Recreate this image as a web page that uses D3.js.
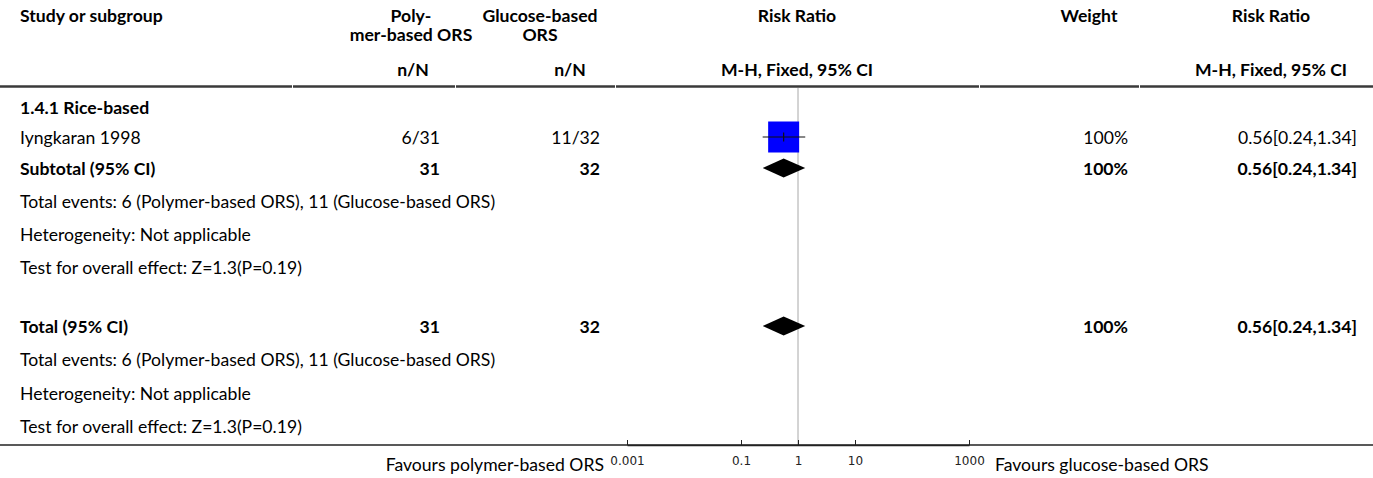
<!DOCTYPE html>
<html>
<head>
<meta charset="utf-8">
<script src="https://cdn.jsdelivr.net/npm/d3@7"></script>
<style>
  html, body { margin: 0; padding: 0; background: #fff; }
  svg { display: block; }
  .txt { font-family: Lato, "Noto Sans", sans-serif; font-size: 17.6px; fill: #000; }
  .bold { font-weight: 700; }
  .tick text { font-family: "DejaVu Sans", sans-serif; font-size: 12px; fill: #222; }
</style>
</head>
<body>
<svg id="chart" width="1373" height="478"></svg>
<script>
// ---- data ----
const studyNames = ["Iyngkaran 1998"];
const polyEvents = [6];
const polyTotals = [31];
const glucoseEvents = [11];
const glucoseTotals = [32];
const studyRR = [0.56];
const studyLow = [0.24];
const studyHigh = [1.34];
const studyWeight = [100];

const subgroupLabel = "1.4.1 Rice-based";
const pooledRR = 0.56, pooledLow = 0.24, pooledHigh = 1.34;
const pooledPolyN = 31, pooledGlucoseN = 32;

const tickValues = [0.001, 0.1, 1, 10, 1000];
const favoursLeft = "Favours polymer-based ORS";
const favoursRight = "Favours glucose-based ORS";

const footnotes = [
  "Total events: 6 (Polymer-based ORS), 11 (Glucose-based ORS)",
  "Heterogeneity: Not applicable",
  "Test for overall effect: Z=1.3(P=0.19)"
];

// ---- layout ----
const W = 1373, H = 478;
const svg = d3.select("#chart");

const col = {
  study: 20,
  polyRight: 440, polyMid: 411, polyNN: 413,
  gluRight: 600, gluMid: 540, gluNN: 570,
  plotMid: 797,
  weightRight: 1128, weightMid: 1089,
  rrRight: 1357, rrMid: 1271
};
const segBreaks = [0, 292, 455, 615, 979, 1139, W];

const x = d3.scaleLog().domain([0.001, 1000]).range([627, 969]);
const axisY = 445;

function txt(g, xp, y, s, opts = {}) {
  return g.append("text")
    .attr("class", "txt" + (opts.bold ? " bold" : ""))
    .attr("x", xp).attr("y", y)
    .attr("text-anchor", opts.anchor || "start")
    .text(s);
}

const g = svg.append("g");

// header
const h1 = 22, h2 = 41, h3 = 76;
txt(g, col.study, h1, "Study or subgroup", { bold: true });
txt(g, col.polyMid, h1, "Poly-", { bold: true, anchor: "middle" });
txt(g, col.polyMid, h2, "mer-based ORS", { bold: true, anchor: "middle" });
txt(g, col.gluMid, h1, "Glucose-based", { bold: true, anchor: "middle" });
txt(g, col.gluMid, h2, "ORS", { bold: true, anchor: "middle" });
txt(g, col.plotMid, h1, "Risk Ratio", { bold: true, anchor: "middle" });
txt(g, col.weightMid, h1, "Weight", { bold: true, anchor: "middle" });
txt(g, col.rrMid, h1, "Risk Ratio", { bold: true, anchor: "middle" });
txt(g, col.polyNN, h3, "n/N", { bold: true, anchor: "middle" });
txt(g, col.gluNN, h3, "n/N", { bold: true, anchor: "middle" });
txt(g, col.plotMid, h3, "M-H, Fixed, 95% CI", { bold: true, anchor: "middle" });
txt(g, col.rrMid, h3, "M-H, Fixed, 95% CI", { bold: true, anchor: "middle" });

// header rule, drawn per column cell
for (let i = 0; i < segBreaks.length - 1; i++) {
  g.append("line")
    .attr("x1", segBreaks[i] + (i ? 1 : 0)).attr("x2", segBreaks[i + 1])
    .attr("y1", 86.5).attr("y2", 86.5)
    .attr("stroke", "#3a3a3a").attr("stroke-width", 2.5);
}

// line of no effect
g.append("line")
  .attr("x1", x(1)).attr("x2", x(1))
  .attr("y1", 88).attr("y2", axisY)
  .attr("stroke", "#a8a8a8").attr("stroke-width", 1);

// rows
const rowY = {
  subgroup: 107,
  study0: 137,
  subtotal: 168,
  sub1: 201, sub2: 234, sub3: 267,
  total: 326,
  tot1: 359, tot2: 393, tot3: 426
};
const base = y => y + 6.5;

txt(g, col.study, base(rowY.subgroup), subgroupLabel, { bold: true });

// study rows
studyNames.forEach((name, i) => {
  const y = rowY.study0;
  txt(g, col.study, base(y), name);
  txt(g, col.polyRight, base(y), `${polyEvents[i]}/${polyTotals[i]}`, { anchor: "end" });
  txt(g, col.gluRight, base(y), `${glucoseEvents[i]}/${glucoseTotals[i]}`, { anchor: "end" });
  txt(g, col.weightRight, base(y), `${studyWeight[i]}%`, { anchor: "end" });
  txt(g, col.rrRight, base(y), `${studyRR[i].toFixed(2)}[${studyLow[i].toFixed(2)},${studyHigh[i].toFixed(2)}]`, { anchor: "end" });

  const side = 31 * Math.sqrt(studyWeight[i] / 100);
  g.append("rect")
    .attr("x", x(studyRR[i]) - side / 2).attr("y", y - side / 2)
    .attr("width", side).attr("height", side)
    .attr("fill", "#0000ff");
  g.append("line")
    .attr("x1", x(studyLow[i])).attr("x2", x(studyHigh[i]))
    .attr("y1", y).attr("y2", y)
    .attr("stroke", "#111").attr("stroke-width", 1.2);
  g.append("line")
    .attr("x1", x(studyRR[i])).attr("x2", x(studyRR[i]))
    .attr("y1", y - 4.5).attr("y2", y + 4.5)
    .attr("stroke", "#111").attr("stroke-width", 1.2);
});

function diamond(y) {
  const hh = 9.5;
  g.append("path")
    .attr("d", `M${x(pooledLow)},${y}L${x(pooledRR)},${y - hh}L${x(pooledHigh)},${y}L${x(pooledRR)},${y + hh}Z`)
    .attr("fill", "#000");
}

function summaryRow(y, label, noteYs) {
  txt(g, col.study, base(y), label, { bold: true });
  txt(g, col.polyRight, base(y), String(pooledPolyN), { bold: true, anchor: "end" });
  txt(g, col.gluRight, base(y), String(pooledGlucoseN), { bold: true, anchor: "end" });
  txt(g, col.weightRight, base(y), "100%", { bold: true, anchor: "end" });
  txt(g, col.rrRight, base(y), `${pooledRR.toFixed(2)}[${pooledLow.toFixed(2)},${pooledHigh.toFixed(2)}]`, { bold: true, anchor: "end" });
  diamond(y);
  footnotes.forEach((s, k) => txt(g, col.study, base(noteYs[k]), s));
}

summaryRow(rowY.subtotal, "Subtotal (95% CI)", [rowY.sub1, rowY.sub2, rowY.sub3]);
summaryRow(rowY.total, "Total (95% CI)", [rowY.tot1, rowY.tot2, rowY.tot3]);

// bottom rule
g.append("line")
  .attr("x1", 0).attr("x2", W)
  .attr("y1", axisY).attr("y2", axisY)
  .attr("stroke", "#222").attr("stroke-width", 1.5);

// axis
const axis = d3.axisBottom(x)
  .tickValues(tickValues)
  .tickFormat(d => String(d))
  .tickSizeInner(-5)
  .tickSizeOuter(0)
  .tickPadding(10);
const ag = svg.append("g").attr("transform", `translate(0,${axisY})`).call(axis);
ag.select(".domain").attr("stroke", "#222").attr("stroke-width", 1.5);
ag.selectAll(".tick line").attr("stroke", "#222");
ag.selectAll(".tick text").attr("dy", "0.71em").attr("y", 11);

txt(g, 604, 471, favoursLeft, { anchor: "end" });
txt(g, 995, 471, favoursRight);
</script>
</body>
</html>
